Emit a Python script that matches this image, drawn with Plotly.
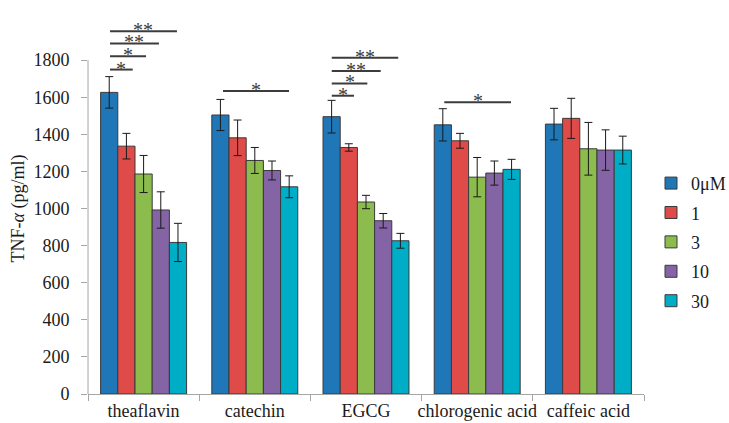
import plotly.graph_objects as go

categories = ["theaflavin", "catechin", "EGCG", "chlorogenic acid", "caffeic acid"]
series_names = ["0μM", "1", "3", "10", "30"]
values = {
    "0μM": [1626, 1504, 1495, 1451, 1455],
    "1":   [1336, 1381, 1329, 1365, 1486],
    "3":   [1186, 1259, 1035, 1169, 1322],
    "10":  [992, 1205, 934, 1191, 1315],
    "30":  [817, 1117, 826, 1211, 1315],
}
errors = {
    "0μM": [85, 84, 88, 87, 85],
    "1":   [69, 96, 20, 40, 108],
    "3":   [100, 70, 36, 106, 142],
    "10":  [98, 51, 39, 65, 109],
    "30":  [103, 59, 40, 54, 75],
}
colors = ["#1F77B8", "#DF4B49", "#8CBB4E", "#8564A6", "#00ADC7"]
y_ticks = [0, 200, 400, 600, 800, 1000, 1200, 1400, 1600, 1800]

# significance brackets: (category index, start offset, end offset, y level, label)
sig_lines = [
    (0, -0.302, -0.098, 1749, "*"),
    (0, -0.302, 0.022, 1821, "*"),
    (0, -0.302, 0.138, 1890, "**"),
    (0, -0.302, 0.300, 1956, "**"),
    (1, -0.286, 0.308, 1633, "*"),
    (2, -0.308, -0.108, 1608, "*"),
    (2, -0.308, 0.012, 1674, "*"),
    (2, -0.308, 0.132, 1741, "**"),
    (2, -0.308, 0.290, 1812, "**"),
    (3, -0.296, 0.304, 1573, "*"),
]

FONT = "Liberation Serif, Times New Roman, serif"

fig = go.Figure()
for name, col in zip(series_names, colors):
    fig.add_trace(go.Bar(
        x=categories, y=values[name], name=name,
        marker=dict(color=col, line=dict(color="#3a3a3a", width=1)),
        error_y=dict(type="data", array=errors[name], visible=True,
                     color="#1a1a1a", thickness=1, width=4),
        legendgroup=name,
    ))

shapes = [dict(type="line", xref="paper", yref="y", x0=0, x1=0, y0=0, y1=1800,
               line=dict(color="#a6a6a6", width=1))]
annotations = []
for ci, a, b, yl, lab in sig_lines:
    shapes.append(dict(type="line", xref="x", yref="y", x0=ci + a, x1=ci + b,
                       y0=yl, y1=yl, line=dict(color="#3c3c3c", width=2)))
    annotations.append(dict(x=ci + (a + b) / 2, y=yl, xref="x", yref="y",
                            text=lab, showarrow=False, yanchor="bottom",
                            height=11, valign="top", borderpad=0,
                            yshift=0, font=dict(family=FONT, size=20, color="#3c3c3c")))

fig.update_layout(
    width=729, height=423,
    margin=dict(l=88, r=85, t=23, b=29, autoexpand=False),
    paper_bgcolor="white", plot_bgcolor="white",
    barmode="group", bargap=0.227, bargroupgap=0,
    font=dict(family=FONT, size=18, color="#1a1a1a"),
    showlegend=True,
    legend=dict(x=1.0126, xanchor="left", xref="paper", y=0.41, yanchor="middle",
                font=dict(family=FONT, size=18), tracegroupgap=3,
                itemwidth=30, bgcolor="rgba(0,0,0,0)"),
    shapes=shapes, annotations=annotations,
)
fig.update_xaxes(showline=True, linecolor="#a6a6a6", linewidth=1, automargin=False,
                 ticks="outside", tickson="boundaries", ticklen=6, tickcolor="#a6a6a6",
                 tickangle=0, showgrid=False, tickfont=dict(family=FONT, size=18))
fig.update_yaxes(range=[0, 2000], tickvals=y_ticks, showline=False, showgrid=False,
                 automargin=False,
                 zeroline=False, ticks="outside", ticklen=6, tickcolor="#a6a6a6",
                 ticklabelstandoff=8, tickfont=dict(family=FONT, size=18),
                 title=dict(text="TNF-<i>α</i> (pg/ml)", standoff=4,
                            font=dict(family=FONT, size=18)))

fig.write_html("out.html")
